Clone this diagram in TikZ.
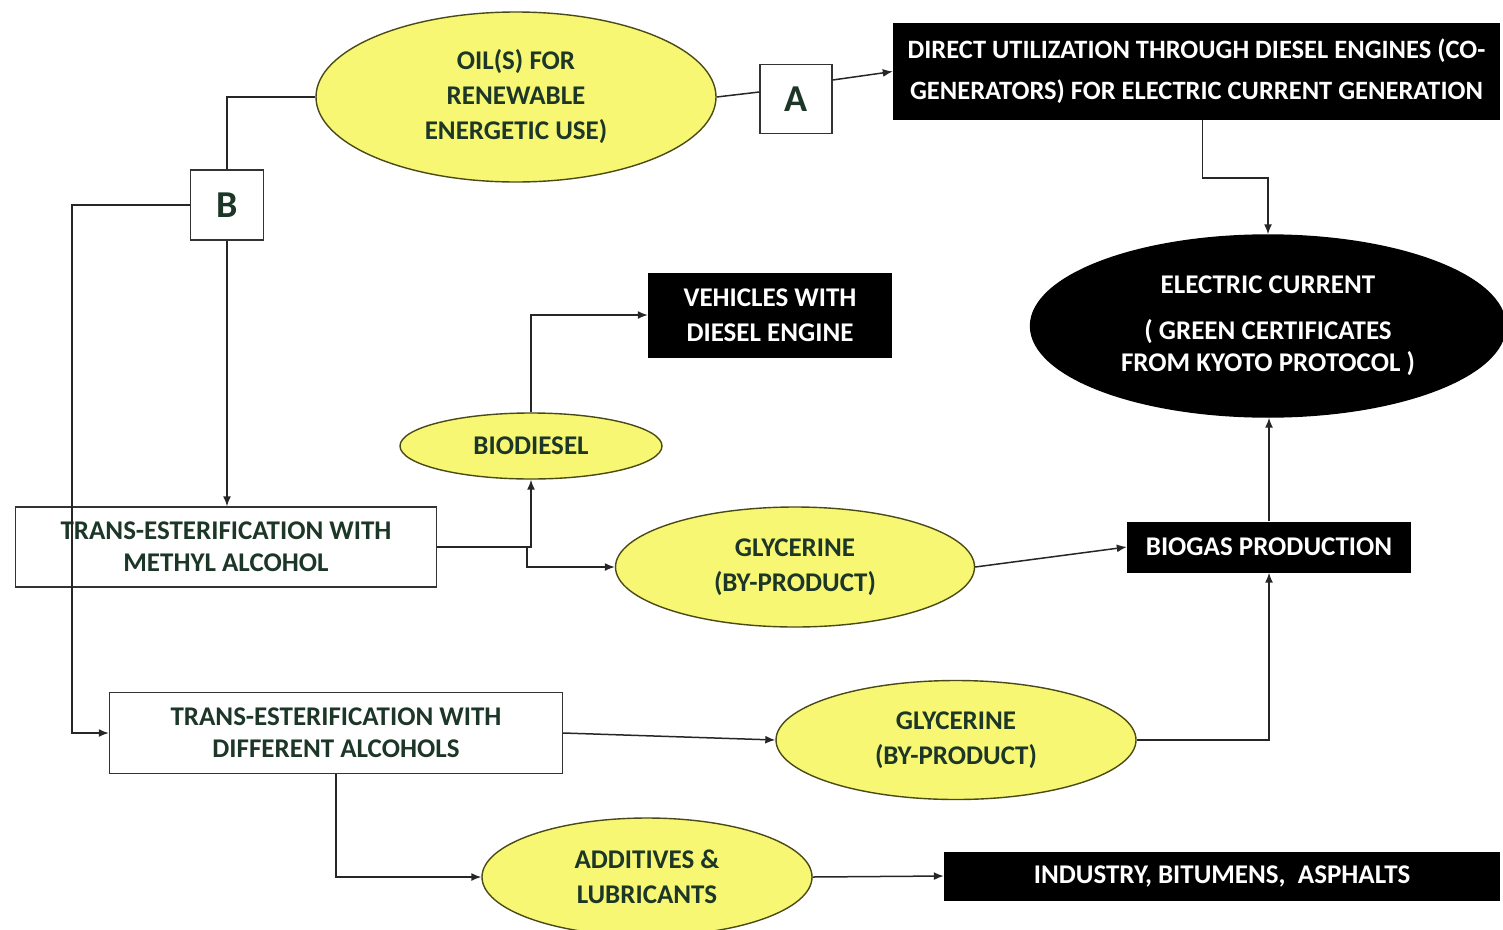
\documentclass[tikz,border=0pt]{standalone}
\usepackage{fontspec}
\setmainfont{Carlito}
\usetikzlibrary{shapes.geometric,arrows.meta}
\definecolor{txtc}{HTML}{1C3628}
\definecolor{yel}{HTML}{F7F774}
\definecolor{yelline}{HTML}{4A4A18}
\tikzset{
  base/.style={font=\bfseries\fontsize{27}{35}\selectfont, align=center, inner sep=0pt},
  yell/.style={base, ellipse, draw=yelline, line width=1.4pt, fill=yel, text=txtc},
  wbox/.style={base, rectangle, draw=black!80, line width=1.4pt, fill=white, text=txtc, font=\bfseries\fontsize{27}{32}\selectfont},
  bbox/.style={base, rectangle, fill=black, text=white},
  conn/.style={draw=black!85, line width=1.5pt},
  arr/.style={conn, -{Latex[length=10pt,width=8pt]}}
}
\begin{document}
\begin{tikzpicture}[x=1pt,y=-1pt]
\useasboundingbox (0,0) rectangle (1503,929);
% nodes
\node[yell, minimum width=400pt, minimum height=170pt] (oil) at (516,97) {OIL(S) FOR\\RENEWABLE\\ENERGETIC USE)};
\node[wbox, minimum width=72pt, minimum height=69pt, font=\bfseries\fontsize{38}{40}\selectfont] (A) at (796,99) {A};
\node[bbox, minimum width=607pt, minimum height=97pt, font=\bfseries\fontsize{26.5}{41}\selectfont] (direct) at (1196.5,71.5) {DIRECT UTILIZATION THROUGH DIESEL ENGINES (CO-\\GENERATORS) FOR ELECTRIC CURRENT GENERATION};
\node[wbox, minimum width=73pt, minimum height=70pt, font=\bfseries\fontsize{38}{40}\selectfont] (B) at (227,205) {B};
\node[yell, minimum width=475pt, minimum height=182pt, fill=black, draw=black, text=white, font=\bfseries\fontsize{27}{32}\selectfont] (elec) at (1268,326) {ELECTRIC CURRENT\\[14pt]( GREEN CERTIFICATES\\FROM KYOTO PROTOCOL )};
\node[bbox, minimum width=244pt, minimum height=85pt] (veh) at (770,315) {VEHICLES WITH\\DIESEL ENGINE};
\node[yell, minimum width=262pt, minimum height=66pt] (bio) at (531,446) {BIODIESEL};
\node[wbox, minimum width=421pt, minimum height=80pt] (meth) at (226,547) {TRANS-ESTERIFICATION WITH\\METHYL ALCOHOL};
\node[yell, minimum width=359pt, minimum height=120pt] (gly1) at (795,567) {GLYCERINE\\(BY-PRODUCT)};
\node[bbox, minimum width=284pt, minimum height=51pt] (biogas) at (1269,547) {BIOGAS PRODUCTION};
\node[wbox, minimum width=453pt, minimum height=81pt] (diff) at (336,733) {TRANS-ESTERIFICATION WITH\\DIFFERENT ALCOHOLS};
\node[yell, minimum width=360pt, minimum height=119pt] (gly2) at (956,740) {GLYCERINE\\(BY-PRODUCT)};
\node[yell, minimum width=330pt, minimum height=118pt] (add) at (647,877) {ADDITIVES \&\\LUBRICANTS};
\node[bbox, minimum width=556pt, minimum height=49pt] (ind) at (1222,876) {INDUSTRY, BITUMENS,\ \ ASPHALTS};
% connectors
\draw[conn] (oil.east) -- ([yshift=7pt]A.west);
\draw[arr] ([yshift=19pt]A.east) -- (direct.west);
\draw[conn] (oil.west) -| (B.north);
\draw[arr] (B.west) -- ++(-118,0) |- (diff.west);
\draw[arr] (B.south) -- (B.south |- meth.north);
\coordinate (j1) at (meth.east -| bio.south);
\draw[arr] (meth.east) -| (bio.south);
\draw[arr] ([xshift=-4pt]j1) |- (gly1.west);
\draw[arr] (bio.north) |- (veh.west);
\draw[arr] ([xshift=6pt]direct.south) -- ++(0,58) -| (elec.north);
\draw[arr] (gly1.east) -- (biogas.west);
\draw[arr] (biogas.north) -- (biogas.north |- elec.south);
\draw[arr] (gly2.east) -| (biogas.south);
\draw[arr] (diff.east) -- (gly2.west);
\draw[arr] (diff.south) |- (add.west);
\draw[arr] (add.east) -- (ind.west);
\end{tikzpicture}
\end{document}
